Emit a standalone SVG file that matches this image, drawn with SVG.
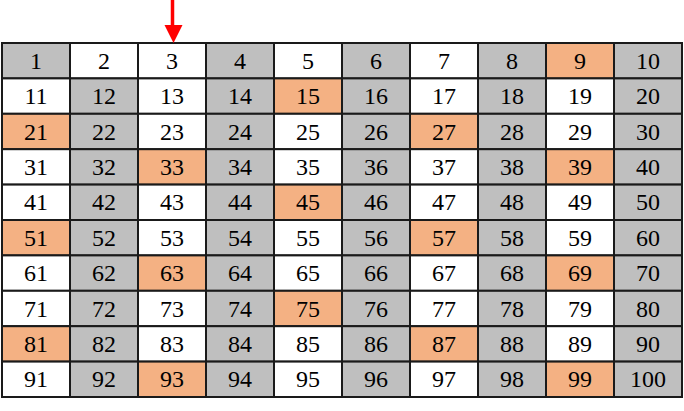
<svg xmlns="http://www.w3.org/2000/svg" width="684" height="411" viewBox="0 0 684 411">
<style>
.c rect{stroke:#1a1a1a;stroke-width:2}
.g{fill:#bfbfbf}.w{fill:#ffffff}.o{fill:#f4b183}
.c text{font-size:24px;fill:#000;text-anchor:middle}
</style>
<g id="cells" class="c" font-family="'Liberation Serif', 'Times New Roman', 'DejaVu Serif', serif">
<g id="c1"><rect class="g" x="2" y="43" width="68" height="35.4"/><text x="36" y="68.7">1</text></g>
<g id="c2"><rect class="w" x="70" y="43" width="68" height="35.4"/><text x="104" y="68.7">2</text></g>
<g id="c3"><rect class="w" x="138" y="43" width="68" height="35.4"/><text x="172" y="68.7">3</text></g>
<g id="c4"><rect class="g" x="206" y="43" width="68" height="35.4"/><text x="240" y="68.7">4</text></g>
<g id="c5"><rect class="w" x="274" y="43" width="68" height="35.4"/><text x="308" y="68.7">5</text></g>
<g id="c6"><rect class="g" x="342" y="43" width="68" height="35.4"/><text x="376" y="68.7">6</text></g>
<g id="c7"><rect class="w" x="410" y="43" width="68" height="35.4"/><text x="444" y="68.7">7</text></g>
<g id="c8"><rect class="g" x="478" y="43" width="68" height="35.4"/><text x="512" y="68.7">8</text></g>
<g id="c9"><rect class="o" x="546" y="43" width="68" height="35.4"/><text x="580" y="68.7">9</text></g>
<g id="c10"><rect class="g" x="614" y="43" width="68" height="35.4"/><text x="648" y="68.7">10</text></g>
<g id="c11"><rect class="w" x="2" y="78.4" width="68" height="35.4"/><text x="36" y="104.1">11</text></g>
<g id="c12"><rect class="g" x="70" y="78.4" width="68" height="35.4"/><text x="104" y="104.1">12</text></g>
<g id="c13"><rect class="w" x="138" y="78.4" width="68" height="35.4"/><text x="172" y="104.1">13</text></g>
<g id="c14"><rect class="g" x="206" y="78.4" width="68" height="35.4"/><text x="240" y="104.1">14</text></g>
<g id="c15"><rect class="o" x="274" y="78.4" width="68" height="35.4"/><text x="308" y="104.1">15</text></g>
<g id="c16"><rect class="g" x="342" y="78.4" width="68" height="35.4"/><text x="376" y="104.1">16</text></g>
<g id="c17"><rect class="w" x="410" y="78.4" width="68" height="35.4"/><text x="444" y="104.1">17</text></g>
<g id="c18"><rect class="g" x="478" y="78.4" width="68" height="35.4"/><text x="512" y="104.1">18</text></g>
<g id="c19"><rect class="w" x="546" y="78.4" width="68" height="35.4"/><text x="580" y="104.1">19</text></g>
<g id="c20"><rect class="g" x="614" y="78.4" width="68" height="35.4"/><text x="648" y="104.1">20</text></g>
<g id="c21"><rect class="o" x="2" y="113.8" width="68" height="35.4"/><text x="36" y="139.5">21</text></g>
<g id="c22"><rect class="g" x="70" y="113.8" width="68" height="35.4"/><text x="104" y="139.5">22</text></g>
<g id="c23"><rect class="w" x="138" y="113.8" width="68" height="35.4"/><text x="172" y="139.5">23</text></g>
<g id="c24"><rect class="g" x="206" y="113.8" width="68" height="35.4"/><text x="240" y="139.5">24</text></g>
<g id="c25"><rect class="w" x="274" y="113.8" width="68" height="35.4"/><text x="308" y="139.5">25</text></g>
<g id="c26"><rect class="g" x="342" y="113.8" width="68" height="35.4"/><text x="376" y="139.5">26</text></g>
<g id="c27"><rect class="o" x="410" y="113.8" width="68" height="35.4"/><text x="444" y="139.5">27</text></g>
<g id="c28"><rect class="g" x="478" y="113.8" width="68" height="35.4"/><text x="512" y="139.5">28</text></g>
<g id="c29"><rect class="w" x="546" y="113.8" width="68" height="35.4"/><text x="580" y="139.5">29</text></g>
<g id="c30"><rect class="g" x="614" y="113.8" width="68" height="35.4"/><text x="648" y="139.5">30</text></g>
<g id="c31"><rect class="w" x="2" y="149.2" width="68" height="35.4"/><text x="36" y="174.9">31</text></g>
<g id="c32"><rect class="g" x="70" y="149.2" width="68" height="35.4"/><text x="104" y="174.9">32</text></g>
<g id="c33"><rect class="o" x="138" y="149.2" width="68" height="35.4"/><text x="172" y="174.9">33</text></g>
<g id="c34"><rect class="g" x="206" y="149.2" width="68" height="35.4"/><text x="240" y="174.9">34</text></g>
<g id="c35"><rect class="w" x="274" y="149.2" width="68" height="35.4"/><text x="308" y="174.9">35</text></g>
<g id="c36"><rect class="g" x="342" y="149.2" width="68" height="35.4"/><text x="376" y="174.9">36</text></g>
<g id="c37"><rect class="w" x="410" y="149.2" width="68" height="35.4"/><text x="444" y="174.9">37</text></g>
<g id="c38"><rect class="g" x="478" y="149.2" width="68" height="35.4"/><text x="512" y="174.9">38</text></g>
<g id="c39"><rect class="o" x="546" y="149.2" width="68" height="35.4"/><text x="580" y="174.9">39</text></g>
<g id="c40"><rect class="g" x="614" y="149.2" width="68" height="35.4"/><text x="648" y="174.9">40</text></g>
<g id="c41"><rect class="w" x="2" y="184.6" width="68" height="35.4"/><text x="36" y="210.3">41</text></g>
<g id="c42"><rect class="g" x="70" y="184.6" width="68" height="35.4"/><text x="104" y="210.3">42</text></g>
<g id="c43"><rect class="w" x="138" y="184.6" width="68" height="35.4"/><text x="172" y="210.3">43</text></g>
<g id="c44"><rect class="g" x="206" y="184.6" width="68" height="35.4"/><text x="240" y="210.3">44</text></g>
<g id="c45"><rect class="o" x="274" y="184.6" width="68" height="35.4"/><text x="308" y="210.3">45</text></g>
<g id="c46"><rect class="g" x="342" y="184.6" width="68" height="35.4"/><text x="376" y="210.3">46</text></g>
<g id="c47"><rect class="w" x="410" y="184.6" width="68" height="35.4"/><text x="444" y="210.3">47</text></g>
<g id="c48"><rect class="g" x="478" y="184.6" width="68" height="35.4"/><text x="512" y="210.3">48</text></g>
<g id="c49"><rect class="w" x="546" y="184.6" width="68" height="35.4"/><text x="580" y="210.3">49</text></g>
<g id="c50"><rect class="g" x="614" y="184.6" width="68" height="35.4"/><text x="648" y="210.3">50</text></g>
<g id="c51"><rect class="o" x="2" y="220" width="68" height="35.4"/><text x="36" y="245.7">51</text></g>
<g id="c52"><rect class="g" x="70" y="220" width="68" height="35.4"/><text x="104" y="245.7">52</text></g>
<g id="c53"><rect class="w" x="138" y="220" width="68" height="35.4"/><text x="172" y="245.7">53</text></g>
<g id="c54"><rect class="g" x="206" y="220" width="68" height="35.4"/><text x="240" y="245.7">54</text></g>
<g id="c55"><rect class="w" x="274" y="220" width="68" height="35.4"/><text x="308" y="245.7">55</text></g>
<g id="c56"><rect class="g" x="342" y="220" width="68" height="35.4"/><text x="376" y="245.7">56</text></g>
<g id="c57"><rect class="o" x="410" y="220" width="68" height="35.4"/><text x="444" y="245.7">57</text></g>
<g id="c58"><rect class="g" x="478" y="220" width="68" height="35.4"/><text x="512" y="245.7">58</text></g>
<g id="c59"><rect class="w" x="546" y="220" width="68" height="35.4"/><text x="580" y="245.7">59</text></g>
<g id="c60"><rect class="g" x="614" y="220" width="68" height="35.4"/><text x="648" y="245.7">60</text></g>
<g id="c61"><rect class="w" x="2" y="255.4" width="68" height="35.4"/><text x="36" y="281.1">61</text></g>
<g id="c62"><rect class="g" x="70" y="255.4" width="68" height="35.4"/><text x="104" y="281.1">62</text></g>
<g id="c63"><rect class="o" x="138" y="255.4" width="68" height="35.4"/><text x="172" y="281.1">63</text></g>
<g id="c64"><rect class="g" x="206" y="255.4" width="68" height="35.4"/><text x="240" y="281.1">64</text></g>
<g id="c65"><rect class="w" x="274" y="255.4" width="68" height="35.4"/><text x="308" y="281.1">65</text></g>
<g id="c66"><rect class="g" x="342" y="255.4" width="68" height="35.4"/><text x="376" y="281.1">66</text></g>
<g id="c67"><rect class="w" x="410" y="255.4" width="68" height="35.4"/><text x="444" y="281.1">67</text></g>
<g id="c68"><rect class="g" x="478" y="255.4" width="68" height="35.4"/><text x="512" y="281.1">68</text></g>
<g id="c69"><rect class="o" x="546" y="255.4" width="68" height="35.4"/><text x="580" y="281.1">69</text></g>
<g id="c70"><rect class="g" x="614" y="255.4" width="68" height="35.4"/><text x="648" y="281.1">70</text></g>
<g id="c71"><rect class="w" x="2" y="290.8" width="68" height="35.4"/><text x="36" y="316.5">71</text></g>
<g id="c72"><rect class="g" x="70" y="290.8" width="68" height="35.4"/><text x="104" y="316.5">72</text></g>
<g id="c73"><rect class="w" x="138" y="290.8" width="68" height="35.4"/><text x="172" y="316.5">73</text></g>
<g id="c74"><rect class="g" x="206" y="290.8" width="68" height="35.4"/><text x="240" y="316.5">74</text></g>
<g id="c75"><rect class="o" x="274" y="290.8" width="68" height="35.4"/><text x="308" y="316.5">75</text></g>
<g id="c76"><rect class="g" x="342" y="290.8" width="68" height="35.4"/><text x="376" y="316.5">76</text></g>
<g id="c77"><rect class="w" x="410" y="290.8" width="68" height="35.4"/><text x="444" y="316.5">77</text></g>
<g id="c78"><rect class="g" x="478" y="290.8" width="68" height="35.4"/><text x="512" y="316.5">78</text></g>
<g id="c79"><rect class="w" x="546" y="290.8" width="68" height="35.4"/><text x="580" y="316.5">79</text></g>
<g id="c80"><rect class="g" x="614" y="290.8" width="68" height="35.4"/><text x="648" y="316.5">80</text></g>
<g id="c81"><rect class="o" x="2" y="326.2" width="68" height="35.4"/><text x="36" y="351.9">81</text></g>
<g id="c82"><rect class="g" x="70" y="326.2" width="68" height="35.4"/><text x="104" y="351.9">82</text></g>
<g id="c83"><rect class="w" x="138" y="326.2" width="68" height="35.4"/><text x="172" y="351.9">83</text></g>
<g id="c84"><rect class="g" x="206" y="326.2" width="68" height="35.4"/><text x="240" y="351.9">84</text></g>
<g id="c85"><rect class="w" x="274" y="326.2" width="68" height="35.4"/><text x="308" y="351.9">85</text></g>
<g id="c86"><rect class="g" x="342" y="326.2" width="68" height="35.4"/><text x="376" y="351.9">86</text></g>
<g id="c87"><rect class="o" x="410" y="326.2" width="68" height="35.4"/><text x="444" y="351.9">87</text></g>
<g id="c88"><rect class="g" x="478" y="326.2" width="68" height="35.4"/><text x="512" y="351.9">88</text></g>
<g id="c89"><rect class="w" x="546" y="326.2" width="68" height="35.4"/><text x="580" y="351.9">89</text></g>
<g id="c90"><rect class="g" x="614" y="326.2" width="68" height="35.4"/><text x="648" y="351.9">90</text></g>
<g id="c91"><rect class="w" x="2" y="361.6" width="68" height="35.4"/><text x="36" y="387.3">91</text></g>
<g id="c92"><rect class="g" x="70" y="361.6" width="68" height="35.4"/><text x="104" y="387.3">92</text></g>
<g id="c93"><rect class="o" x="138" y="361.6" width="68" height="35.4"/><text x="172" y="387.3">93</text></g>
<g id="c94"><rect class="g" x="206" y="361.6" width="68" height="35.4"/><text x="240" y="387.3">94</text></g>
<g id="c95"><rect class="w" x="274" y="361.6" width="68" height="35.4"/><text x="308" y="387.3">95</text></g>
<g id="c96"><rect class="g" x="342" y="361.6" width="68" height="35.4"/><text x="376" y="387.3">96</text></g>
<g id="c97"><rect class="w" x="410" y="361.6" width="68" height="35.4"/><text x="444" y="387.3">97</text></g>
<g id="c98"><rect class="g" x="478" y="361.6" width="68" height="35.4"/><text x="512" y="387.3">98</text></g>
<g id="c99"><rect class="o" x="546" y="361.6" width="68" height="35.4"/><text x="580" y="387.3">99</text></g>
<g id="c100"><rect class="g" x="614" y="361.6" width="68" height="35.4"/><text x="648" y="387.3">100</text></g>
</g>
<g id="connectors">
<line x1="172.5" y1="0" x2="172.5" y2="27" stroke="#ff0000" stroke-width="3.5"/>
<polygon points="164.5,25 182.5,25 173.5,43" fill="#ff0000"/>
</g>
</svg>
